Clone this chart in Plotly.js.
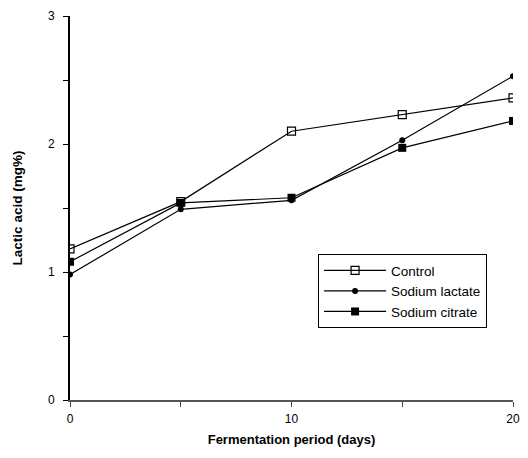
<!DOCTYPE html>
<html><head><meta charset="utf-8">
<script src="https://cdn.plot.ly/plotly-3.0.1.min.js"></script>
<style>html,body{margin:0;padding:0;background:#fff}</style>
</head><body>
<div id="chart" style="width:528px;height:458px"></div>
<script>
const days = [0, 5, 10, 15, 20];
const control = [1.18, 1.55, 2.10, 2.23, 2.36];
const sodiumLactate = [0.98, 1.49, 1.56, 2.03, 2.53];
const sodiumCitrate = [1.08, 1.54, 1.58, 1.97, 2.18];
const xTickVals = [0, 5, 10, 15, 20];
const xTickText = ['0', '', '10', '', '20'];
const yTickVals = [0, 0.5, 1, 1.5, 2, 2.5, 3];
const yTickText = ['0', '', '1', '', '2', '', '3'];

const traces = [
  {x: days, y: control, name: 'Control', mode: 'lines+markers',
   line: {color: '#000', width: 1.2},
   marker: {symbol: 'square-open', size: 8, color: '#000', line: {width: 1.2, color: '#000'}}},
  {x: days, y: sodiumLactate, name: 'Sodium lactate', mode: 'lines+markers',
   line: {color: '#000', width: 1.2},
   marker: {symbol: 'circle', size: 6, color: '#000'}},
  {x: days, y: sodiumCitrate, name: 'Sodium citrate', mode: 'lines+markers',
   line: {color: '#000', width: 1.2},
   marker: {symbol: 'square', size: 8, color: '#000'}}
];

const layout = {
  width: 528, height: 458,
  margin: {l: 70, r: 15, t: 16, b: 58},
  paper_bgcolor: '#fff', plot_bgcolor: '#fff',
  font: {family: 'Liberation Sans, Arial, sans-serif', color: '#000', size: 11},
  showlegend: true,
  legend: {x: 0.56, y: 0.38, xanchor: 'left', yanchor: 'top',
    bordercolor: '#000', borderwidth: 1, bgcolor: '#fff',
    font: {size: 13.5}, itemwidth: 62},
  xaxis: {range: [0, 20], tickvals: xTickVals, ticktext: xTickText,
    ticks: 'outside', ticklen: 5, tickcolor: '#444', showgrid: false, zeroline: false,
    showline: true, linecolor: '#555', linewidth: 1.5,
    tickfont: {size: 12}, ticklabelstandoff: 2,
    title: {text: 'Fermentation period (days)', font: {size: 13, weight: 'bold'}, standoff: 10}},
  yaxis: {range: [0, 3], tickvals: yTickVals, ticktext: yTickText,
    ticks: 'outside', ticklen: 5, tickcolor: '#000', showgrid: false, zeroline: false,
    showline: true, linecolor: '#000', linewidth: 2,
    tickfont: {size: 12}, ticklabelstandoff: 6,
    title: {text: 'Lactic acid (mg%)', font: {size: 13.5, weight: 'bold'}, standoff: 22}}
};

Plotly.newPlot('chart', traces, layout, {displayModeBar: false, staticPlot: true});
</script>
</body></html>
